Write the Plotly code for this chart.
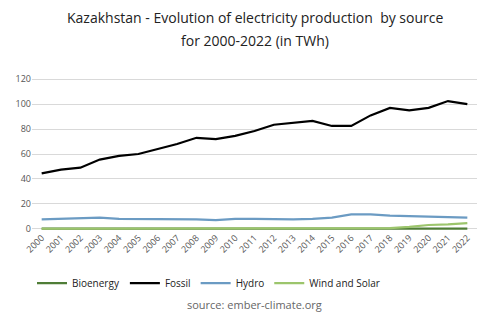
import plotly.graph_objects as go

years = [str(y) for y in range(2000, 2023)]
bioenergy = [0.1]*23
fossil = [44.5, 47.5, 49, 55.5, 58.5, 60, 64, 68, 73, 72, 74.5, 78.5, 83.5, 85, 86.5, 82.5, 82.5, 91, 97, 95, 97, 102.5, 100]
hydro = [7.5, 8, 9, 9, 8, 8, 8, 8, 7.5, 7, 8, 8, 7.5, 7.5, 8, 9, 11.5, 11.5, 10.5, 10, 9.5, 9, 9]
wind_solar = [0, 0, 0, 0, 0, 0, 0, 0, 0, 0, 0, 0, 0, 0, 0, 0.1, 0.2, 0.3, 0.5, 1.5, 3, 3.5, 4.5]

series = [
    ("Bioenergy", bioenergy, "#4f7d37"),
    ("Fossil", fossil, "#000000"),
    ("Hydro", hydro, "#6b9bc3"),
    ("Wind and Solar", wind_solar, "#9cc56c"),
]

fig = go.Figure()
for name, vals, col in series:
    fig.add_trace(go.Scatter(x=years, y=vals, mode="lines", name=name,
                             line=dict(color=col, width=2.2)))

font = "Open Sans, Lato, sans-serif"
fig.update_layout(
    width=490, height=326,
    margin=dict(l=32, r=13, t=78, b=96),
    paper_bgcolor="white", plot_bgcolor="white",
    xaxis=dict(type="category", range=[-0.5, 22.5], tickangle=-45, showgrid=False, zeroline=False,
               tickfont=dict(family=font, size=9, color="#555555"), ticks="",
               showline=False),
    yaxis=dict(range=[-1, 121], tickvals=[0, 20, 40, 60, 80, 100, 120], showgrid=True,
               gridcolor="#d9d9d9", gridwidth=1, zeroline=False,
               tickfont=dict(family=font, size=9, color="#555555")),
    legend=dict(orientation="h", x=0.0, xanchor="left", y=-0.35, yanchor="middle",
                font=dict(family=font, size=10, color="#222222"), tracegroupgap=0),
    showlegend=True,
)
fig.add_annotation(text="Kazakhstan - Evolution of electricity production  by source", xref="paper", yref="paper",
                   x=0.5, xanchor="center", y=1.395, yanchor="middle", showarrow=False,
                   font=dict(family=font, size=14, color="#222222"))
fig.add_annotation(text="for 2000-2022 (in TWh)", xref="paper", yref="paper",
                   x=0.5, xanchor="center", y=1.25, yanchor="middle", showarrow=False,
                   font=dict(family=font, size=14, color="#222222"))
fig.add_annotation(text="source: ember-climate.org", xref="paper", yref="paper",
                   x=0.5, xanchor="center", y=-0.49, yanchor="middle", showarrow=False,
                   font=dict(family=font, size=11, color="#666666"))
fig.write_html("out.html")
